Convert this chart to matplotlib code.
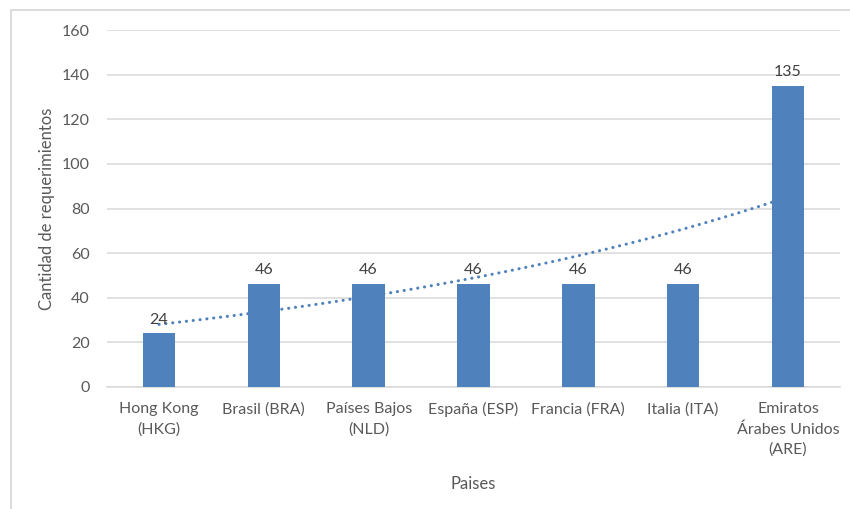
import numpy as np
import matplotlib.pyplot as plt
from matplotlib.patches import Rectangle

paises = ['Hong Kong\n(HKG)', 'Brasil (BRA)', 'Países Bajos\n(NLD)', 'España (ESP)',
          'Francia (FRA)', 'Italia (ITA)', 'Emiratos\nÁrabes Unidos\n(ARE)']
requerimientos = [24, 46, 46, 46, 46, 46, 135]

azul = '#4f81bd'
gris_texto = '#595959'
gris_linea = '#d9d9d9'

plt.rcParams['font.family'] = ['Lato', 'DejaVu Sans']

fig = plt.figure(figsize=(8.5, 5.09), dpi=100)
ax = fig.add_axes([0.1254, 0.2397, 0.8633, 0.7013])

x = np.arange(len(paises))

# Línea de tendencia exponencial (ajuste sobre ln y, como en Excel)
b, ln_a = np.polyfit(x + 1, np.log(requerimientos), 1)
xs = np.linspace(0, len(paises) - 1, 200)
ax.plot(xs, np.exp(ln_a + b * (xs + 1)), linestyle=(0, (0.05, 2.2)), color=azul,
        linewidth=2.2, dash_capstyle='round', zorder=2)

barras = ax.bar(x, requerimientos, width=0.31, color=azul, zorder=3)
for rect, v in zip(barras, requerimientos):
    ax.annotate(str(v), (rect.get_x() + rect.get_width() / 2, v),
                xytext=(0, 5), textcoords='offset points', ha='center', va='bottom',
                fontsize=11.5, color='#404040', zorder=4)

ax.set_xlim(-0.5, len(paises) - 0.5)
ax.set_ylim(0, 160)
ax.set_yticks(range(0, 161, 20))
ax.yaxis.grid(True, color=gris_linea, linewidth=1.1)
ax.set_axisbelow(True)

for lado in ['top', 'right', 'left']:
    ax.spines[lado].set_visible(False)
ax.spines['bottom'].set_color(gris_linea)
ax.spines['bottom'].set_linewidth(1.1)

ax.tick_params(axis='both', length=0, labelsize=11.5, labelcolor=gris_texto)
ax.tick_params(axis='y', pad=12)
ax.tick_params(axis='x', pad=11)
ax.set_xticks(x)
ax.set_xticklabels(paises, linespacing=1.5)

ax.set_ylabel('Cantidad de requerimientos', fontsize=12, color=gris_texto, labelpad=5)
ax.set_xlabel('Paises', fontsize=12, color=gris_texto, labelpad=14)

# Borde del área del gráfico
fig.patches.append(Rectangle((10.5 / 850, -0.1), 1.2, 1 - 9.5 / 509 + 0.1,
                             transform=fig.transFigure, fill=False,
                             edgecolor=gris_linea, linewidth=1.3))

fig.savefig('out.png', dpi=100)
